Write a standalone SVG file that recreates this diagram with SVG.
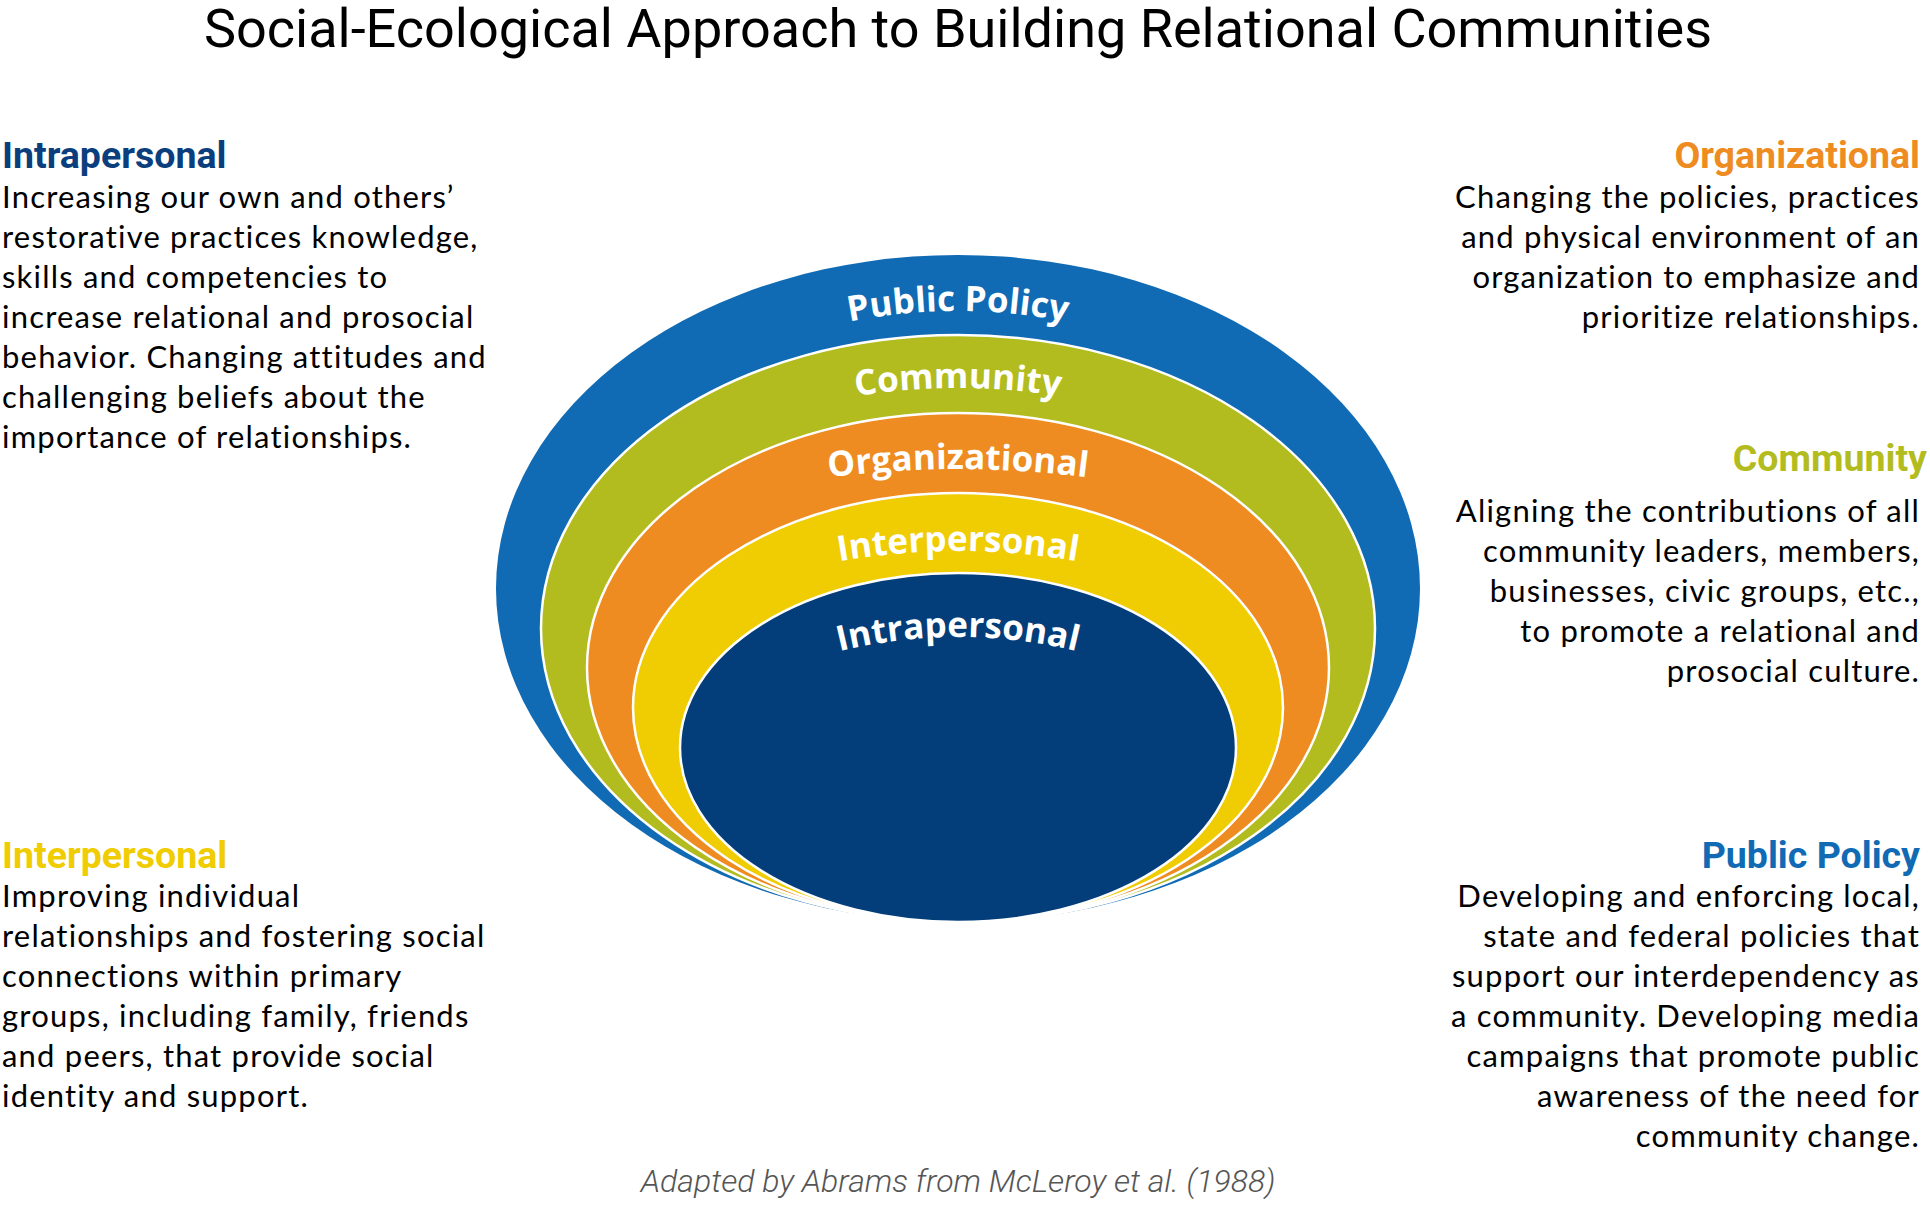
<svg xmlns="http://www.w3.org/2000/svg" width="1930" height="1226" viewBox="0 0 1930 1226">
<defs>
<style>
.title{font-family:Roboto,"Liberation Sans",sans-serif;font-size:54px;fill:#000}
.head{font-family:Roboto,"Liberation Sans",sans-serif;font-weight:700;font-size:37.5px}
.body{font-family:Lato,"Liberation Sans",sans-serif;font-size:31px;letter-spacing:1.2px;fill:#000}
.end{text-anchor:end}
.ring{stroke:#fff;stroke-width:2.5}
.lbl{font-family:"Open Sans",Roboto,sans-serif;font-weight:700;font-size:35px;fill:#fff;text-anchor:middle}
.foot{font-family:Roboto,"Liberation Sans",sans-serif;font-style:italic;font-weight:300;font-size:32px;fill:#555;text-anchor:middle}
</style>
<path id="arcPP" d="M698,375 A560,560 0 0 1 1218,375"/>
<path id="arcCM" d="M708,438 A650,650 0 0 1 1208,438"/>
<path id="arcOR" d="M708,500.8 A1000,1000 0 0 1 1208,500.8"/>
<path id="arcIE" d="M708,597.2 A700,700 0 0 1 1208,597.2"/>
<path id="arcIA" d="M708,704 A500,500 0 0 1 1208,704"/>
</defs>
<rect width="1930" height="1226" fill="#fff"/>
<text class="title" x="958" y="47" text-anchor="middle">Social-Ecological Approach to Building Relational Communities</text>

<g id="diagram">
<g id="ring-public-policy"><ellipse cx="958" cy="588.5" rx="462" ry="333.5" fill="#106BB4"/></g>
<g id="ring-community"><ellipse class="ring" cx="958" cy="628.5" rx="417" ry="293.5" fill="#B2BC1E"/></g>
<g id="ring-organizational"><ellipse class="ring" cx="958" cy="667.5" rx="371" ry="254.5" fill="#EE8B21"/></g>
<g id="ring-interpersonal"><ellipse class="ring" cx="958" cy="707.5" rx="325" ry="214.5" fill="#F0CC02"/></g>
<g id="ring-intrapersonal"><ellipse class="ring" cx="958" cy="747.5" rx="278" ry="174.5" fill="#033E7A"/></g>
<g id="labels">
<text class="lbl"><textPath href="#arcPP" startOffset="50%">Public Policy</textPath></text>
<text class="lbl"><textPath href="#arcCM" startOffset="50%">Community</textPath></text>
<text class="lbl"><textPath href="#arcOR" startOffset="50%">Organizational</textPath></text>
<text class="lbl"><textPath href="#arcIE" startOffset="50%">Interpersonal</textPath></text>
<text class="lbl"><textPath href="#arcIA" startOffset="50%">Intrapersonal</textPath></text>
</g>
</g>

<g id="desc-intrapersonal">
<text class="head" x="2" y="168" fill="#0A3E7C">Intrapersonal</text>
<text class="body" x="2" y="208">Increasing our own and others’</text>
<text class="body" x="2" y="248">restorative practices knowledge,</text>
<text class="body" x="2" y="288">skills and competencies to</text>
<text class="body" x="2" y="328">increase relational and prosocial</text>
<text class="body" x="2" y="368">behavior. Changing attitudes and</text>
<text class="body" x="2" y="408">challenging beliefs about the</text>
<text class="body" x="2" y="448">importance of relationships.</text>
</g>

<g id="desc-organizational">
<text class="head end" x="1920" y="168" fill="#EE8B21">Organizational</text>
<text class="body end" x="1920" y="208">Changing the policies, practices</text>
<text class="body end" x="1920" y="248">and physical environment of an</text>
<text class="body end" x="1920" y="288">organization to emphasize and</text>
<text class="body end" x="1920" y="328">prioritize relationships.</text>
</g>

<g id="desc-community">
<text class="head end" x="1927" y="471" fill="#B2BC1E">Community</text>
<text class="body end" x="1920" y="522">Aligning the contributions of all</text>
<text class="body end" x="1920" y="562">community leaders, members,</text>
<text class="body end" x="1920" y="602">businesses, civic groups, etc.,</text>
<text class="body end" x="1920" y="642">to promote a relational and</text>
<text class="body end" x="1920" y="682">prosocial culture.</text>
</g>

<g id="desc-interpersonal">
<text class="head" x="2" y="868" fill="#F0CC02">Interpersonal</text>
<text class="body" x="2" y="907">Improving individual</text>
<text class="body" x="2" y="947">relationships and fostering social</text>
<text class="body" x="2" y="987">connections within primary</text>
<text class="body" x="2" y="1027">groups, including family, friends</text>
<text class="body" x="2" y="1067">and peers, that provide social</text>
<text class="body" x="2" y="1107">identity and support.</text>
</g>

<g id="desc-public-policy">
<text class="head end" x="1920" y="868" fill="#106BB4">Public Policy</text>
<text class="body end" x="1920" y="907">Developing and enforcing local,</text>
<text class="body end" x="1920" y="947">state and federal policies that</text>
<text class="body end" x="1920" y="987">support our interdependency as</text>
<text class="body end" x="1920" y="1027">a community. Developing media</text>
<text class="body end" x="1920" y="1067">campaigns that promote public</text>
<text class="body end" x="1920" y="1107">awareness of the need for</text>
<text class="body end" x="1920" y="1147">community change.</text>
</g>

<text class="foot" x="958" y="1192">Adapted by Abrams from McLeroy et al. (1988)</text>
</svg>
